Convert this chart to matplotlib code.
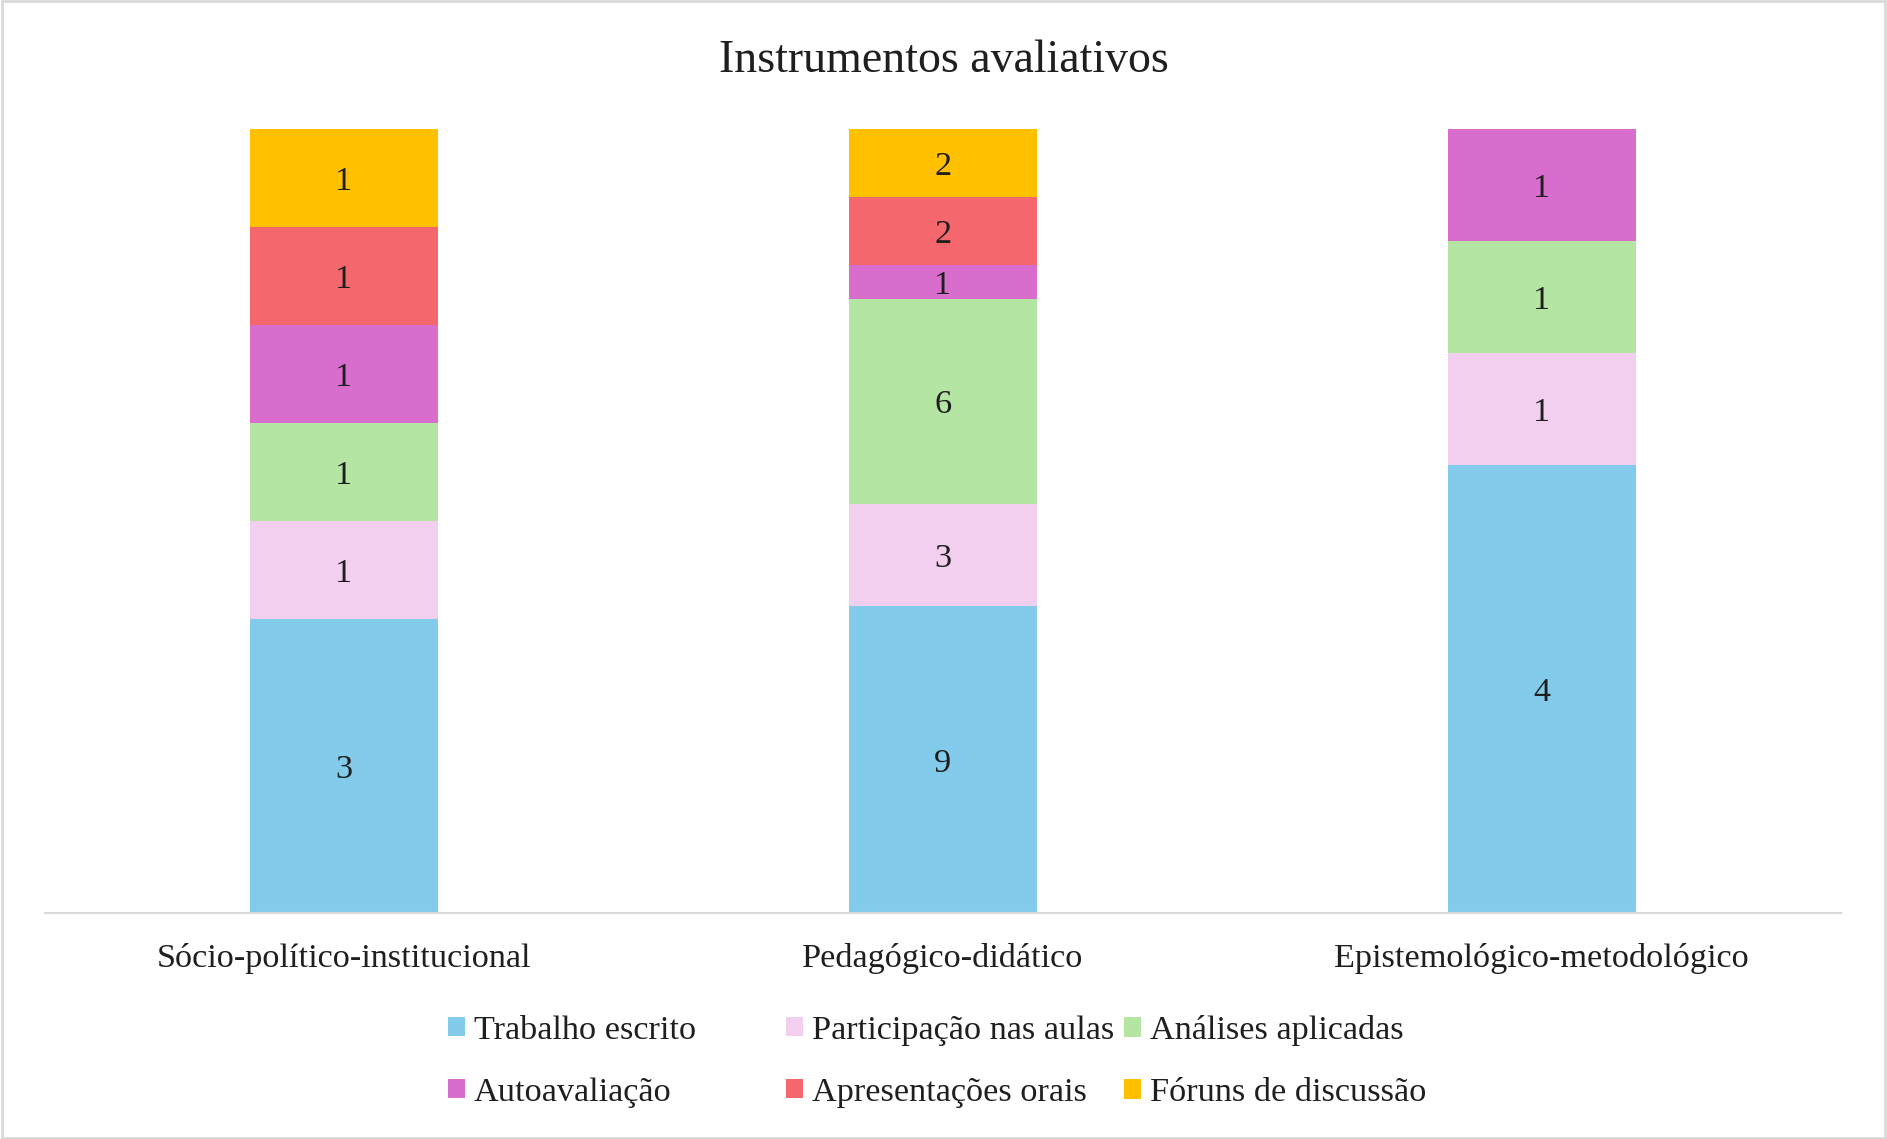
####################################################################################
# Imports                                                                          #
####################################################################################
import numpy as np
from matplotlib import pyplot as plt
from matplotlib.patches import Rectangle


####################################################################################
# Data                                                                             #
####################################################################################
categories = [ "Sócio-político-institucional", "Pedagógico-didático",
               "Epistemológico-metodológico" ]

series_names = [ "Trabalho escrito", "Participação nas aulas", "Análises aplicadas",
                 "Autoavaliação", "Apresentações orais", "Fóruns de discussão" ]

trabalho_escrito = [ 3, 9, 4 ]
participacao     = [ 1, 3, 1 ]
analises         = [ 1, 6, 1 ]
autoavaliacao    = [ 1, 1, 1 ]
apresentacoes    = [ 1, 2, 0 ]
foruns           = [ 1, 2, 0 ]

colors = [ "#83CBEB", "#F2CEEF", "#B4E5A2", "#D86DCD", "#F4686D", "#FFC000" ]


####################################################################################
# Plot                                                                             #
####################################################################################
plt.rcParams['font.family'] = [ 'Liberation Serif', 'DejaVu Serif' ]
TEXT_COLOR = "#1f1f1f"
FONT_SIZE  = 24.7

values = np.array( [ trabalho_escrito, participacao, analises,
                     autoavaliacao, apresentacoes, foruns ], dtype=float )
totals = values.sum( axis=0 )
shares = values / totals   # 100% stacked columns

fig = plt.figure( figsize=(18.87, 11.39), dpi=100 )
ax  = fig.add_axes( [ 0.0236, 0.198, 0.952, 0.689 ] )

x       = np.arange( len( categories ) )
bottoms = np.zeros( len( categories ) )
handles = []
for i, name in enumerate( series_names ):
    bars = ax.bar( x, shares[i], 0.314, bottom=bottoms, color=colors[i],
                   label=name, zorder=2 )
    handles.append( bars )
    for j, bar in enumerate( bars ):
        if values[i][j] > 0:
            ax.text( bar.get_x() + bar.get_width()/2, bottoms[j] + shares[i][j]/2,
                     "{:d}".format( int( values[i][j] ) ), ha='center',
                     va='center_baseline', fontsize=FONT_SIZE, color=TEXT_COLOR )
    bottoms += shares[i]

ax.set_xlim( -0.5, 2.5 )
ax.set_ylim( 0, 1 )
ax.set_xticks( x )
ax.set_xticklabels( categories, fontsize=FONT_SIZE, color=TEXT_COLOR )
ax.tick_params( axis='x', length=0, pad=21 )
ax.set_yticks( [] )
for side in [ 'left', 'right', 'top' ]:
    ax.spines[side].set_visible( False )
ax.spines['bottom'].set_color( "#D9D9D9" )
ax.spines['bottom'].set_linewidth( 1.5 )
ax.set_facecolor( 'none' )

fig.text( 0.5, 0.9465, "Instrumentos avaliativos", ha='center', va='center',
          fontsize=33, color=TEXT_COLOR )

# Legend laid out in three evenly spaced columns, two rows each
legend_x = [ 448, 786, 1124 ]
for col in range( 3 ):
    cols_handles = [ handles[col], handles[col + 3] ]
    cols_labels  = [ series_names[col], series_names[col + 3] ]
    leg = fig.legend( cols_handles, cols_labels, loc='center left',
                      bbox_to_anchor=( legend_x[col]/1887, 1 - 1061.5/1139 ),
                      frameon=False, fontsize=FONT_SIZE, borderpad=0,
                      borderaxespad=0, handlelength=0.5, handleheight=0.5,
                      handletextpad=0.25, labelspacing=0.92 )
    for text in leg.get_texts():
        text.set_color( TEXT_COLOR )

# Light frame round the chart area
fig.patches.append( Rectangle( (0.001, 0.001), 0.998, 0.998, transform=fig.transFigure,
                               fill=False, edgecolor="#D9D9D9", linewidth=2 ) )

fig.savefig( "out.png", dpi=100 )
